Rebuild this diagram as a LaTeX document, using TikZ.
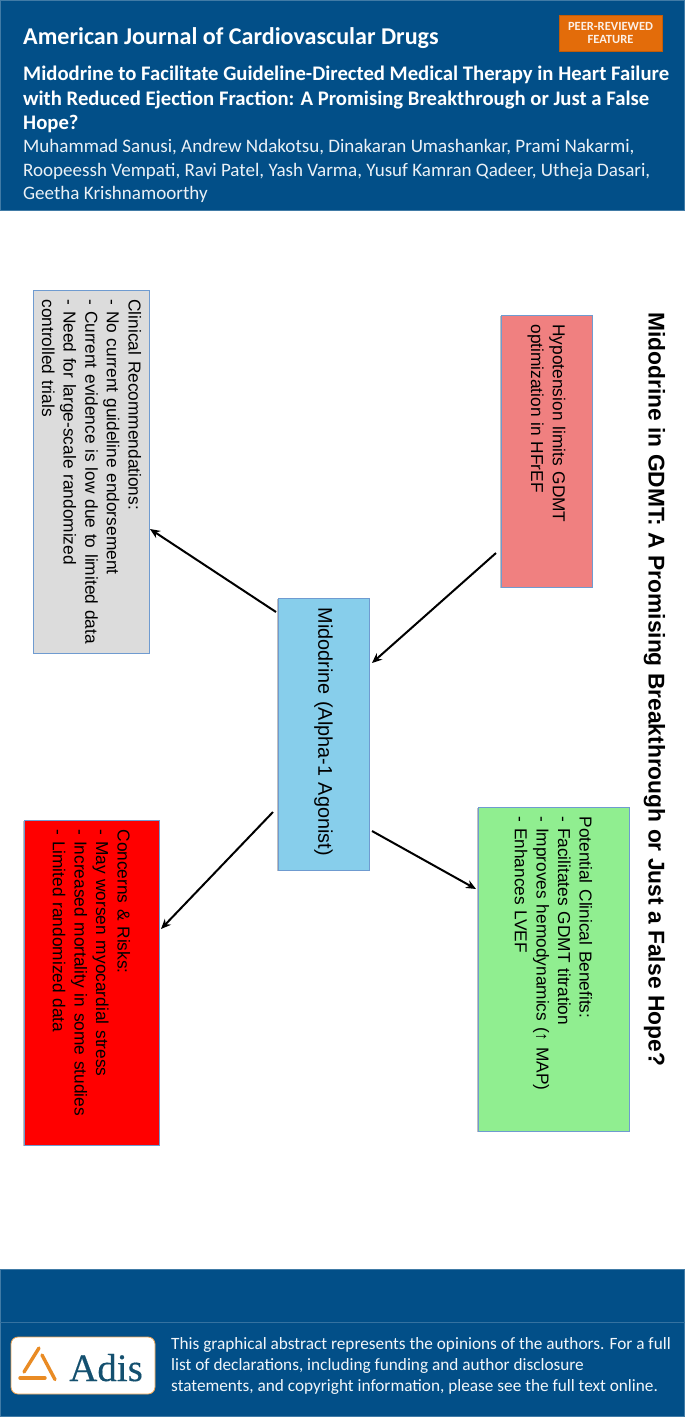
\documentclass[tikz,border=0pt]{standalone}
\usepackage{fontspec}
\setmainfont{Carlito}
\newfontfamily\arialf{Liberation Sans}
\newfontfamily\timesf[FakeBold=0.25]{Liberation Serif}
\usetikzlibrary{calc,shadows,arrows.meta}
\definecolor{navy}{HTML}{024F88}
\definecolor{edgeblue}{HTML}{6F9BD0}
\definecolor{badgeor}{HTML}{E36C0A}
\definecolor{logoor}{HTML}{E98B24}
\definecolor{adisblue}{HTML}{14506F}
\definecolor{pinkbox}{HTML}{F08080}
\definecolor{bluebox}{HTML}{87CEEB}
\definecolor{greenbox}{HTML}{90EE90}
\definecolor{greybox}{HTML}{DCDCDC}
\tikzset{
 panel/.style n args={3}{draw=edgeblue,line width=0.9pt,fill=#3,rotate=-90,inner xsep=9.5pt,inner ysep=0pt,
   minimum width=#1 pt,minimum height=#2 pt,text width=#1 pt-19pt,align=left,
   font=\arialf\fontsize{17.3}{21.6}\selectfont,text=black,
   drop shadow={shadow xshift=-1pt,shadow yshift=-1pt,opacity=.25,fill=black}},
 conn/.style={-{Stealth[length=10pt,width=8.5pt]},line width=2pt,black},
 head/.style={anchor=base west,inner sep=0pt,text=white},
 titlef/.style={head,font=\bfseries\fontsize{20.7}{20.7}\selectfont},
 authf/.style={head,font=\fontsize{19.05}{19.05}\selectfont,text=white!92!navy},
 footf/.style={head,font=\fontsize{17.25}{17.25}\selectfont,text=white!95!navy},
 logobar/.style={logoor,line width=3.4pt,line cap=round},
 band/.style={fill=navy,draw=navy!75!white,line width=0.6pt},
}
\begin{document}
\begin{tikzpicture}[x=1pt,y=-1pt]
\useasboundingbox (0,0) rectangle (685,1417);
\fill[white] (0,0) rectangle (685,1417);
% header
\path[band] (0.3,0.3) rectangle (684.7,210);
\node[head,font=\bfseries\fontsize{24.1}{24.1}\selectfont] (journal) at (23,44) {American Journal of Cardiovascular Drugs};
\node[draw=badgeor!85!black,fill=badgeor,minimum width=103pt,minimum height=36pt,inner sep=0pt,align=center,text=white!90!badgeor,
      font=\bfseries\fontsize{12.5}{13.5}\selectfont,drop shadow={shadow xshift=0.6pt,shadow yshift=-0.8pt,opacity=.35,fill=black}] (badge) at (610.5,33) {PEER-REVIEWED\\FEATURE};
\node[titlef] (t1) at (23,80) {Midodrine to Facilitate Guideline-Directed Medical Therapy in Heart Failure};
\node[titlef] (t2) at (23,105) {with Reduced Ejection Fraction: A Promising Breakthrough or Just a False};
\node[titlef] (t3) at (23,129) {Hope?};
\node[authf] (a1) at (23,152) {Muhammad Sanusi, Andrew Ndakotsu, Dinakaran Umashankar, Prami Nakarmi,};
\node[authf] (a2) at (23,176) {Roopeessh Vempati, Ravi Patel, Yash Varma, Yusuf Kamran Qadeer, Utheja Dasari,};
\node[authf] (a3) at (23,199) {Geetha Krishnamoorthy};
% footer
\path[band] (0.3,1269) rectangle (684.7,1416);
\draw[navy!80!white,line width=0.7pt] (0,1322.5) -- (685,1322.5);
\node[draw=logoor!80!white,fill=white,rounded corners=7pt,line width=0.8pt,minimum width=144pt,minimum height=57pt,inner sep=0pt] (logo) at (83,1365.5) {};
\draw[logobar] ($(logo.center)+(-59,6.5)$) -- ($(logo.center)+(-44,-17.5)$);
\draw[logobar] ($(logo.center)+(-41,-10.5)$) -- ($(logo.center)+(-28,14)$);
\draw[logobar] ($(logo.center)+(-63,12.5)$) -- ($(logo.center)+(-38,12.5)$);
\node[head,font=\timesf\fontsize{39}{39}\selectfont,text=adisblue] (adis) at (69,1381) {Adis};
\node[footf] (f1) at (171,1349) {This graphical abstract represents the opinions of the authors. For a full};
\node[footf] (f2) at (171,1370) {list of declarations, including funding and author disclosure};
\node[footf] (f3) at (171,1391) {statements, and copyright information, please see the full text online.};
% rotated title
\node[rotate=-90,anchor=base west,inner sep=0pt,font=\arialf\bfseries\fontsize{22.8}{22.8}\selectfont,text=black] (bigtitle) at (648.5,312)
  {Midodrine in GDMT: A Promising Breakthrough or Just a False Hope?};
% panels
\node[panel={272}{91}{pinkbox}] (pink) at (546.5,451) {Hypotension limits GDMT\\optimization in HFrEF};
\node[panel={272}{91}{bluebox},font=\arialf\fontsize{19.85}{24}\selectfont] (blue) at (323.5,734) {Midodrine (Alpha-1 Agonist)};
\node[panel={363}{116}{greybox}] (grey) at (91.5,471.5) {Clinical Recommendations:\\- No current guideline endorsement\\\mbox{- Current evidence is low due to limited data}\\- Need for large-scale randomized\\controlled trials};
\node[panel={325}{135}{red}] (redbox) at (91.5,982.5) {Concerns \& Risks:\\- May worsen myocardial stress\\- Increased mortality in some studies\\- Limited randomized data};
\node[panel={324}{151}{greenbox}] (green) at (553.5,969) {Potential Clinical Benefits:\\- Facilitates GDMT titration\\- Improves hemodynamics (↑ MAP)\\- Enhances LVEF};
% connectors
\draw[conn] ($(pink.center)+(-50.5,102)$) -- ($(blue.center)+(48.5,-71)$);
\draw[conn] ($(blue.center)+(48.5,97)$) -- ($(green.center)+(-77.5,-80)$);
\draw[conn] ($(blue.center)+(-47.5,-122)$) -- ($(grey.center)+(58.5,57.5)$);
\draw[conn] ($(blue.center)+(-50.5,78)$) -- ($(redbox.center)+(69.5,-53.5)$);
\end{tikzpicture}
\end{document}
